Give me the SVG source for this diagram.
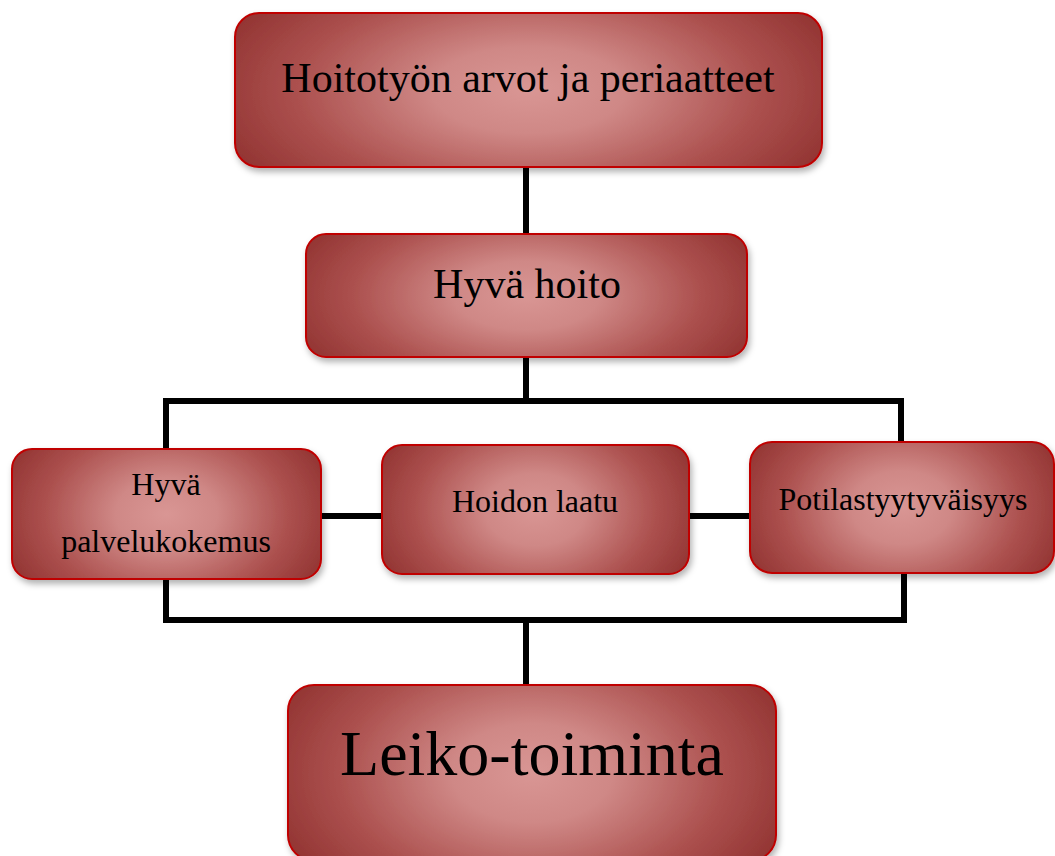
<svg xmlns="http://www.w3.org/2000/svg" width="1055" height="856" viewBox="0 0 1055 856">
<defs>
<radialGradient id="g" cx="0.5" cy="0.5" r="0.55" gradientTransform="translate(0.5,0.5) scale(1,1.7) translate(-0.5,-0.5)">
<stop offset="0" stop-color="#d99694"/>
<stop offset="0.3" stop-color="#cf8886"/>
<stop offset="0.7" stop-color="#ad5250"/>
<stop offset="1" stop-color="#943634"/>
</radialGradient>
<filter id="sh" x="-10%" y="-10%" width="125%" height="130%">
<feDropShadow dx="2" dy="4" stdDeviation="3" flood-color="#000" flood-opacity="0.3"/>
</filter>
</defs>
<style>
.box{fill:url(#g);stroke:#c00000;stroke-width:2;filter:url(#sh)}
.ln{fill:none;stroke:#000;stroke-width:6;stroke-linecap:butt;stroke-linejoin:miter}
text{font-family:"Liberation Serif","Times New Roman",serif;fill:#000;text-anchor:middle}
</style>
<rect width="1055" height="856" fill="#fff"/>
<g id="connectors">
<line class="ln" x1="526" y1="167" x2="526" y2="235"/>
<line class="ln" x1="526" y1="357" x2="526" y2="401"/>
<polyline class="ln" points="166,450 166,401 901,401 901,443"/>
<polyline class="ln" points="166,578 166,620 904,620 904,573"/>
<line class="ln" x1="526" y1="620" x2="526" y2="686"/>
<line class="ln" x1="320" y1="516" x2="383" y2="516"/>
<line class="ln" x1="688" y1="516" x2="750" y2="516"/>
</g>
<g id="node-top">
<rect class="box" x="235" y="13" width="587" height="154" rx="24"/>
<text x="528" y="92" font-size="42">Hoitotyön arvot ja periaatteet</text>
</g>
<g id="node-hyva-hoito">
<rect class="box" x="306" y="234" width="441" height="123" rx="20"/>
<text x="527" y="298" font-size="42">Hyvä hoito</text>
</g>
<g id="node-palvelukokemus">
<rect class="box" x="12" y="449" width="309" height="130" rx="20"/>
<text x="166" y="495" font-size="32">Hyvä</text>
<text x="166" y="552" font-size="32">palvelukokemus</text>
</g>
<g id="node-laatu">
<rect class="box" x="382" y="445" width="307" height="129" rx="20"/>
<text x="535" y="512" font-size="32">Hoidon laatu</text>
</g>
<g id="node-potilas">
<rect class="box" x="750" y="442" width="304" height="131" rx="22"/>
<text x="903" y="510" font-size="32">Potilastyytyväisyys</text>
</g>
<g id="node-leiko">
<rect class="box" x="288" y="685" width="488" height="176" rx="26"/>
<text x="532" y="775" font-size="64">Leiko-toiminta</text>
</g>
</svg>
